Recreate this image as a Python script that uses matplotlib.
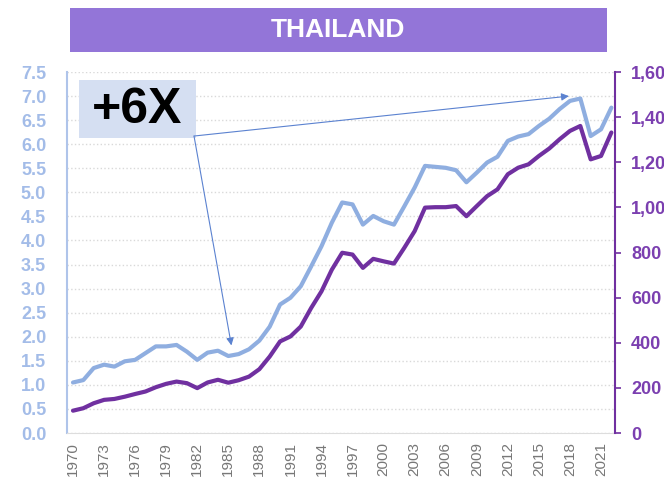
import matplotlib
matplotlib.use('Agg')
import matplotlib.pyplot as plt
from matplotlib.patches import Rectangle
from matplotlib.ticker import FuncFormatter

plt.rcParams['font.family'] = ['Liberation Sans', 'DejaVu Sans']

years = list(range(1970, 2023))
index_vals = [1.05, 1.10, 1.35, 1.42, 1.38, 1.49, 1.52, 1.66, 1.80, 1.80,
              1.83, 1.69, 1.52, 1.67, 1.71, 1.60, 1.64, 1.74, 1.92, 2.21,
              2.67, 2.81, 3.05, 3.46, 3.88, 4.37, 4.79, 4.75, 4.33, 4.51,
              4.40, 4.33, 4.71, 5.10, 5.55, 5.53, 5.51, 5.46, 5.21, 5.41,
              5.62, 5.74, 6.07, 6.16, 6.21, 6.38, 6.53, 6.73, 6.90, 6.95,
              6.17, 6.31, 6.76]
gdp_vals = [99, 110, 132, 147, 151, 161, 173, 184, 203, 218,
            228, 221, 199, 224, 236, 223, 234, 250, 283, 339,
            406, 428, 472, 554, 628, 724, 799, 791, 732, 772,
            761, 751, 821, 895, 999, 1001, 1001, 1006, 961, 1006,
            1050, 1080, 1147, 1176, 1191, 1228, 1261, 1302, 1339, 1361,
            1213, 1228, 1332]
left_ticks = [0.0, 0.5, 1.0, 1.5, 2.0, 2.5, 3.0, 3.5, 4.0, 4.5, 5.0, 5.5, 6.0, 6.5, 7.0, 7.5]
right_ticks = [0, 200, 400, 600, 800, 1000, 1200, 1400, 1600]
year_ticks = list(range(1970, 2022, 3))

light_blue = '#8FAEE0'
purple = '#7030A0'
label_blue = '#A3BCE8'
label_purple = '#7B3FB0'

fig = plt.figure(figsize=(6.64, 4.78), dpi=100)
ax = fig.add_axes([0.1009, 0.0941, 0.8253, 0.7552])
ax2 = ax.twinx()

# title banner
fig.patches.append(Rectangle((0.1054, 0.8912), 0.8088, 0.0921, transform=fig.transFigure,
                             facecolor='#9375D8', edgecolor='none'))
fig.text(0.509, 0.937, 'THAILAND', color='white', fontsize=19, fontweight='bold',
         ha='center', va='center')

ax.plot(years, index_vals, color=light_blue, lw=3, solid_capstyle='round')
ax2.plot(years, gdp_vals, color=purple, lw=3, solid_capstyle='round')

ax.set_xlim(1969.42, 2022.35)
ax.set_ylim(0, 7.5)
ax2.set_ylim(0, 1600)

ax.set_yticks(left_ticks)
ax.set_yticklabels(['%.1f' % v for v in left_ticks])
ax.tick_params(axis='y', length=0, pad=15, labelsize=13, labelcolor=label_blue)
for lab in ax.get_yticklabels():
    lab.set_fontweight('bold')

ax.set_xticks(year_ticks)
ax.set_xticklabels([str(y) for y in year_ticks], rotation=90)
ax.tick_params(axis='x', length=0, pad=6.5, labelsize=11, labelcolor='#777777')

ax2.set_yticks(right_ticks)
ax2.yaxis.set_major_formatter(FuncFormatter(lambda v, p: '{:,.0f}'.format(v)))
ax2.tick_params(axis='y', length=4, width=1.2, color=purple, pad=7.5, labelsize=13,
                labelcolor=label_purple)
for lab in ax2.get_yticklabels():
    lab.set_fontweight('bold')

ax.grid(axis='y', color='#D9D9D9', linestyle=':', linewidth=1)
ax.set_axisbelow(True)

ax.spines['top'].set_visible(False)
ax.spines['right'].set_visible(False)
ax.spines['left'].set_color('#AFC4EA')
ax.spines['left'].set_linewidth(1.5)
ax.spines['bottom'].set_color('#DDDDDD')
for s in ['top', 'left', 'bottom']:
    ax2.spines[s].set_visible(False)
ax2.spines['right'].set_color(purple)
ax2.spines['right'].set_linewidth(1.5)

# +6X callout
ax.add_patch(Rectangle((0.0219, 0.817), 0.2135, 0.161, transform=ax.transAxes,
                       facecolor='#D5DFF2', edgecolor='none', zorder=3))
ax.text(0.1287, 0.895, '+6X', transform=ax.transAxes, fontsize=36, fontweight='bold',
        color='black', ha='center', va='center', zorder=4)

arrow_color = '#5B82D0'
for tip in [(2017.9, 7.0), (1985.3, 1.82)]:
    ax.annotate('', xy=tip, xycoords='data', xytext=(0.2318, 0.8227),
                textcoords='axes fraction',
                arrowprops=dict(arrowstyle='-|>', color=arrow_color, lw=0.8,
                                mutation_scale=11, shrinkA=0, shrinkB=0))

fig.savefig('out.png', dpi=100)
plt.close()
